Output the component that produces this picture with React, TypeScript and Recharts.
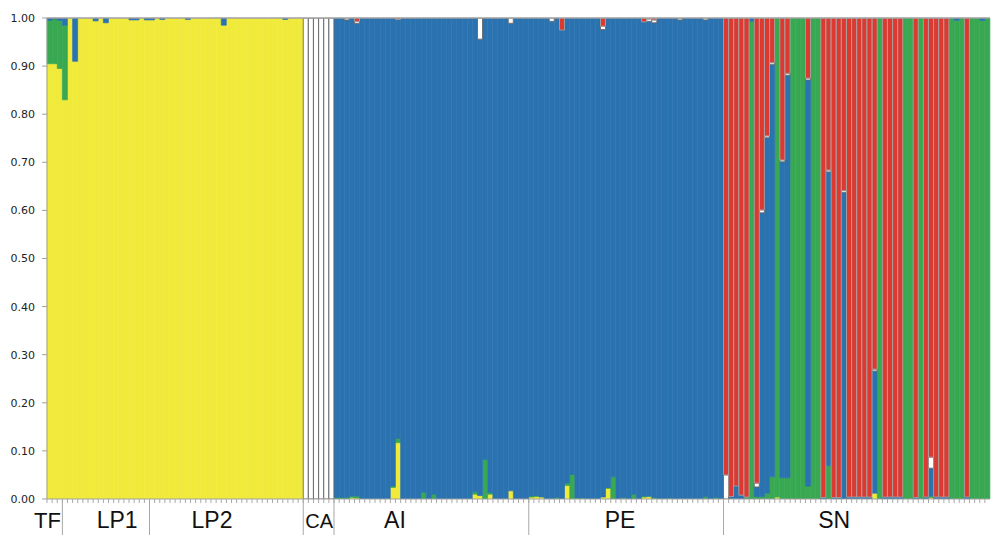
import React from 'react';
import { BarChart, Bar, XAxis, YAxis, ReferenceLine } from 'recharts';

const groupNames = ['TF', 'LP1', 'LP2', 'CA', 'AI', 'PE', 'SN'];
const groupSizes = [3, 17, 30, 6, 38, 38, 52];

// dominant cluster of each individual: Y yellow, G green, B blue, W white, R red
const mainCluster =
  'Y'.repeat(50) +
  'W'.repeat(6) +
  'B'.repeat(76) +
  'RRRRRGRRRRGRRGGGRGGRRRRRRRRRRRGRRRRGGRGRRRRRGGGRGGGG';

// minor memberships: [individual, yellow, green, blue, white, red]
const admixture: number[][] = [
  [0, 0, 0.09, 0.005, 0, 0],
  [1, 0, 0.093, 0.002, 0, 0],
  [2, 0, 0.1, 0.005, 0, 0],
  [3, 0, 0.155, 0.015, 0, 0],
  [5, 0, 0, 0.09, 0, 0],
  [9, 0, 0, 0.006, 0, 0],
  [11, 0, 0, 0.01, 0, 0],
  [16, 0, 0, 0.004, 0, 0],
  [17, 0, 0, 0.004, 0, 0],
  [19, 0, 0, 0.004, 0, 0],
  [20, 0, 0, 0.004, 0, 0],
  [22, 0, 0, 0.003, 0, 0],
  [27, 0, 0, 0.003, 0, 0],
  [34, 0, 0, 0.015, 0, 0],
  [46, 0, 0, 0.003, 0, 0],
  [56, 0, 0.003, 0, 0, 0],
  [57, 0, 0.003, 0, 0, 0],
  [58, 0, 0.003, 0, 0.004, 0],
  [59, 0.003, 0.003, 0, 0, 0],
  [60, 0.002, 0.004, 0, 0.004, 0.007],
  [67, 0.024, 0.003, 0, 0, 0],
  [68, 0.117, 0.009, 0, 0, 0.003],
  [73, 0, 0.014, 0, 0, 0],
  [75, 0, 0.01, 0, 0, 0],
  [83, 0.01, 0.005, 0, 0, 0],
  [84, 0.007, 0, 0, 0.044, 0],
  [85, 0, 0.082, 0, 0, 0],
  [86, 0.01, 0.003, 0, 0, 0],
  [90, 0.017, 0, 0, 0.011, 0],
  [94, 0.004, 0.002, 0, 0, 0],
  [95, 0.005, 0.002, 0, 0, 0],
  [96, 0.004, 0, 0, 0, 0],
  [98, 0, 0, 0, 0.007, 0],
  [99, 0, 0.003, 0, 0, 0],
  [100, 0, 0, 0, 0, 0.025],
  [101, 0.028, 0.005, 0, 0, 0],
  [102, 0, 0.051, 0, 0, 0],
  [103, 0, 0.002, 0, 0, 0],
  [104, 0, 0.002, 0, 0, 0],
  [108, 0.004, 0, 0, 0.007, 0.017],
  [109, 0.022, 0.002, 0, 0, 0],
  [110, 0, 0.046, 0, 0, 0],
  [112, 0, 0.003, 0, 0, 0],
  [114, 0, 0.01, 0, 0, 0],
  [116, 0.004, 0.002, 0, 0, 0.008],
  [117, 0.005, 0, 0, 0.005, 0.002],
  [118, 0, 0.003, 0, 0.006, 0.004],
  [121, 0, 0.002, 0, 0, 0],
  [123, 0, 0, 0, 0.004, 0],
  [128, 0, 0.005, 0, 0.004, 0],
  [130, 0, 0.003, 0, 0, 0],
  [132, 0, 0, 0, 0.05, 0],
  [133, 0, 0, 0.005, 0, 0],
  [134, 0, 0, 0.027, 0, 0],
  [135, 0, 0, 0.008, 0, 0],
  [136, 0, 0.004, 0, 0, 0],
  [137, 0, 0, 0.007, 0, 0],
  [138, 0, 0.005, 0.02, 0.008, 0],
  [139, 0, 0.005, 0.59, 0.006, 0],
  [140, 0, 0.012, 0.739, 0.004, 0],
  [141, 0, 0.046, 0.857, 0.004, 0],
  [142, 0.004, 0, 0, 0, 0],
  [143, 0, 0.044, 0.657, 0.004, 0],
  [144, 0, 0.044, 0.837, 0.004, 0],
  [148, 0, 0.027, 0.844, 0.004, 0],
  [151, 0, 0, 0.003, 0, 0],
  [152, 0, 0.069, 0.611, 0.004, 0],
  [153, 0, 0, 0.003, 0, 0],
  [154, 0, 0, 0.003, 0, 0],
  [155, 0, 0, 0.637, 0.004, 0],
  [156, 0, 0, 0.004, 0, 0],
  [157, 0, 0, 0.004, 0, 0],
  [158, 0, 0, 0.004, 0, 0],
  [159, 0, 0, 0.004, 0, 0],
  [160, 0, 0, 0.004, 0, 0],
  [161, 0.012, 0, 0.254, 0.004, 0],
  [163, 0, 0, 0.004, 0, 0],
  [164, 0, 0, 0.004, 0, 0],
  [165, 0, 0, 0.004, 0, 0],
  [166, 0, 0, 0.004, 0, 0],
  [169, 0, 0, 0.003, 0, 0],
  [171, 0, 0, 0.004, 0, 0],
  [172, 0.003, 0.003, 0.058, 0.023, 0],
  [173, 0, 0, 0.004, 0, 0],
  [174, 0, 0, 0.004, 0, 0],
  [175, 0, 0, 0.004, 0, 0],
  [177, 0, 0, 0.005, 0, 0],
  [179, 0, 0, 0.004, 0, 0],
  [182, 0, 0, 0.005, 0, 0],
];

const yTicks = [0, 0.1, 0.2, 0.3, 0.4, 0.5, 0.6, 0.7, 0.8, 0.9, 1];

const keys = ['yellow', 'green', 'blue', 'white', 'red'];
const codeKey: Record<string, string> = { Y: 'yellow', G: 'green', B: 'blue', W: 'white', R: 'red' };

const data = mainCluster.split('').map((c, i) => {
  const row: any = { id: i, yellow: 0, green: 0, blue: 0, white: 0, red: 0 };
  const mix = admixture.find((a) => a[0] === i);
  if (mix) keys.forEach((k, j) => (row[k] = mix[j + 1]));
  const main = codeKey[c];
  const rest = keys.filter((k) => k !== main).reduce((s, k) => s + row[k], 0);
  row[main] = 1 - rest;
  return row;
});

const W = 991;
const H = 535;
const LEFT = 47;
const RIGHT = 1;
const step = (W - LEFT - RIGHT) / data.length;

const groupStarts = groupSizes.map((_, g) => groupSizes.slice(0, g).reduce((a, b) => a + b, 0));
// label centres (in bar units) and font sizes, placed as in the figure
const labelAt = [-0.4, 13.2, 31.7, 52.6, 67.4, 111.3, 153.1];
const labelSize = [22, 23, 23, 20, 23, 23, 23];

const YELLOW = '#F0EA3B';
const GREEN = '#38A852';
const BLUE = '#2A72B0';
const RED = '#DC3A30';

const GroupTick = (props: any) => {
  const { x, y, payload } = props;
  const i = Number(payload.value);
  const g = groupStarts.indexOf(i);
  const edge = x - step / 2;
  return (
    <g>
      <line x1={edge} x2={edge} y1={y} y2={y + 4} stroke="#a8a8a8" />
      {g > 0 && <line x1={edge} x2={edge} y1={y} y2={y + 36} stroke="#a8a8a8" />}
      {g >= 0 && (
        <text
          x={x + (labelAt[g] - i) * step}
          y={y + 29}
          textAnchor="middle"
          fontFamily="'Liberation Sans', Arial, sans-serif"
          fontSize={labelSize[g]}
          fill="#111"
        >
          {groupNames[g]}
        </text>
      )}
    </g>
  );
};

const App = () => {
  return (
    <div style={{ position: 'absolute', left: 0, top: 0, width: W, height: H, background: '#fff' }}>
      <BarChart
        width={W}
        height={H}
        data={data}
        margin={{ top: 18, right: RIGHT, bottom: 0, left: 0 }}
        barCategoryGap={0}
        barGap={0}
      >
        <XAxis
          dataKey="id"
          interval={0}
          height={36}
          tickLine={false}
          tickSize={0}
          tickMargin={0}
          axisLine={{ stroke: '#a0a0a0' }}
          tick={<GroupTick />}
        />
        <YAxis
          type="number"
          domain={[0, 1]}
          allowDataOverflow
          ticks={yTicks}
          tickFormatter={(v: number) => v.toFixed(2)}
          width={LEFT}
          tickSize={5}
          tickMargin={7}
          axisLine={{ stroke: '#a0a0a0' }}
          tickLine={{ stroke: '#a0a0a0' }}
          tick={{ fontSize: 11, fill: '#222', fontFamily: 'DejaVu Sans, Verdana, sans-serif' }}
        />
        <Bar dataKey="yellow" stackId="q" fill={YELLOW} stroke={YELLOW} strokeWidth={0.7} isAnimationActive={false} />
        <Bar dataKey="green" stackId="q" fill={GREEN} stroke={GREEN} strokeWidth={0.7} isAnimationActive={false} />
        <Bar dataKey="blue" stackId="q" fill={BLUE} stroke={BLUE} strokeWidth={0.7} isAnimationActive={false} />
        <Bar dataKey="white" stackId="q" fill="#ffffff" stroke="#666" strokeWidth={0.9} isAnimationActive={false} />
        <Bar dataKey="red" stackId="q" fill={RED} stroke="#a5a5a5" strokeWidth={0.8} isAnimationActive={false} />
        <ReferenceLine y={1} stroke="#a0a0a0" strokeWidth={1.5} />
      </BarChart>
    </div>
  );
};

export default App;
